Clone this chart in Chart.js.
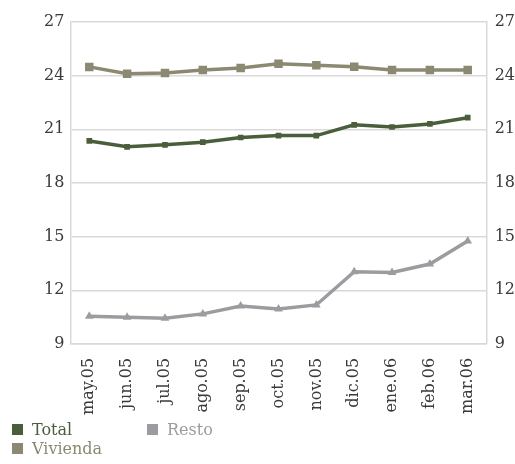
<!DOCTYPE html>
<html lang="es">
<head>
<meta charset="UTF-8">
<title>Total, Vivienda y Resto</title>
<script src="https://cdn.jsdelivr.net/npm/chart.js"></script>
<style>
    * { margin: 0; padding: 0; box-sizing: border-box; }
    body { background: #fff; width: 515px; height: 464px; overflow: hidden; font-family: 'DejaVu Serif', serif; position: relative; }
    .chart-box { position: absolute; left: 0; top: 0; width: 523px; height: 421px; }
    .legend { position: absolute; left: 12px; top: 420px; font-size: 16px; line-height: 20px; }
    .legend span { position: absolute; white-space: nowrap; }
    .legend i { display: inline-block; width: 11px; height: 11px; margin-right: 9px; vertical-align: 0px; }
</style>
</head>
<body>
<div class="chart-box"><canvas id="myChart"></canvas></div>
<div class="legend" id="legend"></div>

<script>
    const months = ['may.05', 'jun.05', 'jul.05', 'ago.05', 'sep.05', 'oct.05',
        'nov.05', 'dic.05', 'ene.06', 'feb.06', 'mar.06'];
    const total = [20.35, 20.02, 20.13, 20.28, 20.54, 20.65, 20.65, 21.25, 21.13, 21.3, 21.65];
    const vivienda = [24.49, 24.11, 24.15, 24.32, 24.43, 24.67, 24.58, 24.5, 24.32, 24.32, 24.32];
    const resto = [10.55, 10.49, 10.44, 10.68, 11.12, 10.96, 11.18, 13.04, 12.99, 13.47, 14.76];
    const yTicks = [9, 12, 15, 18, 21, 24, 27];

    const green = '#4a5e3b';
    const khaki = '#8b8971';
    const grey = '#9c9ca0';
    const textColor = '#3a3a3a';
    const gridColor = '#d9d9d9';

    function series(label, values, color, shape, size) {
        return {
            label: label,
            data: values,
            borderColor: color,
            backgroundColor: color,
            borderWidth: 3.5,
            pointStyle: shape,
            pointRadius: size,
            pointHoverRadius: size,
            pointBorderWidth: 0,
            tension: 0
        };
    }

    const tickFont = { family: 'DejaVu Serif', size: 16 };

    new Chart(document.getElementById('myChart'), {
        type: 'line',
        data: {
            labels: months,
            datasets: [
                series('Vivienda', vivienda, khaki, 'rect', 6),
                series('Total', total, green, 'rect', 4),
                series('Resto', resto, grey, 'triangle', 5)
            ]
        },
        options: {
            responsive: true,
            maintainAspectRatio: false,
            animation: false,
            layout: { padding: { top: 22, left: 38, right: 0, bottom: 0 } },
            plugins: { legend: { display: false }, tooltip: { enabled: false } },
            scales: {
                x: {
                    offset: true,
                    grid: { display: false },
                    border: { color: gridColor, width: 1.5 },
                    ticks: { color: textColor, font: tickFont, maxRotation: 90, minRotation: 90, padding: 6 }
                },
                y: {
                    position: 'left',
                    min: 9, max: 27,
                    afterBuildTicks: axis => { axis.ticks = yTicks.map(v => ({ value: v })); },
                    grid: { color: gridColor, lineWidth: 1.5, drawTicks: false },
                    border: { color: gridColor, width: 1.5 },
                    ticks: { color: textColor, font: tickFont, padding: 6 }
                },
                y2: {
                    position: 'right',
                    min: 9, max: 27,
                    afterBuildTicks: axis => { axis.ticks = yTicks.map(v => ({ value: v })); },
                    grid: { display: false, drawTicks: false },
                    border: { color: gridColor, width: 1.5 },
                    ticks: { color: textColor, font: tickFont, padding: 8 }
                }
            }
        }
    });

    // legend laid out in two columns under the chart
    const legendItems = [
        { label: 'Total', color: green, x: 0, y: 0 },
        { label: 'Resto', color: grey, x: 135, y: 0 },
        { label: 'Vivienda', color: khaki, x: 0, y: 19 }
    ];
    const legend = document.getElementById('legend');
    legendItems.forEach(item => {
        const span = document.createElement('span');
        span.style.left = item.x + 'px';
        span.style.top = item.y + 'px';
        span.style.color = item.color;
        span.innerHTML = '<i style="background:' + item.color + '"></i>' + item.label;
        legend.appendChild(span);
    });
</script>
</body>
</html>
